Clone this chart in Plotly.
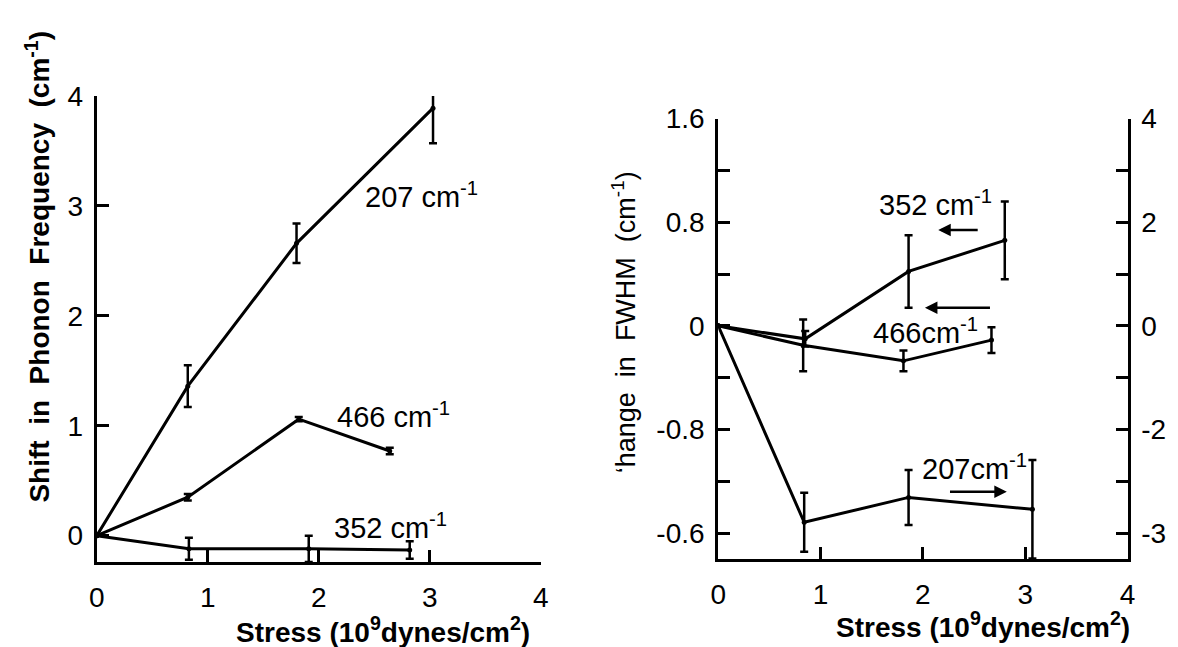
import plotly.graph_objects as go

# ---------------- data ----------------
# Left panel: shift in phonon frequency (cm^-1) vs stress (10^9 dynes/cm^2)
shift_207_x = [0, 0.82, 1.80, 3.03]
shift_207_y = [0, 1.36, 2.66, 3.89]
shift_207_err = [0, 0.19, 0.18, 0.32]

shift_466_x = [0, 0.82, 1.82, 2.64]
shift_466_y = [0, 0.35, 1.06, 0.77]
shift_466_err = [0, 0.03, 0.02, 0.03]

shift_352_x = [0, 0.83, 1.91, 2.82]
shift_352_y = [0, -0.12, -0.12, -0.13]
shift_352_err = [0, 0.10, 0.12, 0.08]

# Right panel: change in FWHM
fwhm_352_x = [0, 0.85, 1.86, 2.80]          # left axis
fwhm_352_y = [0, -0.10, 0.42, 0.66]
fwhm_352_err = [0, 0.06, 0.28, 0.30]

fwhm_466_x = [0, 0.83, 1.81, 2.67]          # left axis
fwhm_466_y = [0, -0.15, -0.27, -0.11]
fwhm_466_err = [0, 0.20, 0.08, 0.10]

fwhm_207_x = [0, 0.84, 1.86, 3.07]          # right axis
fwhm_207_y = [0, -3.79, -3.31, -3.54]
fwhm_207_err = [0, 0.57, 0.53, 0.95]

left_xticks = [0, 1, 2, 3, 4]
left_yticks = [0, 1, 2, 3, 4]
right_left_tickvals = [-1.6, -0.8, 0, 0.8, 1.6]
right_left_ticktext = ["-0.6", "-0.8", "0", "0.8", "1.6"]
right_left_minor = [-1.2, -0.4, 0.4, 1.2]
right_right_tickvals = [-4, -2, 0, 2, 4]
right_right_ticktext = ["-3", "-2", "0", "2", "4"]
right_right_minor = [-3, -1, 1, 3]

W, H = 1178, 647
FONT = "Liberation Sans"

def px(x):
    return x / W

def py(y):
    return 1 - y / H

fig = go.Figure()

def add_series(xs, ys, errs, xa, ya):
    fig.add_trace(go.Scatter(
        x=xs, y=ys, xaxis=xa, yaxis=ya, mode="lines+markers",
        line=dict(color="black", width=3),
        marker=dict(color="black", size=5),
        error_y=dict(type="data", array=errs, visible=True,
                     color="black", thickness=2.5, width=4),
        cliponaxis=False, showlegend=False, hoverinfo="skip"))

add_series(shift_207_x, shift_207_y, shift_207_err, "x", "y")
add_series(shift_466_x, shift_466_y, shift_466_err, "x", "y")
add_series(shift_352_x, shift_352_y, shift_352_err, "x", "y")
add_series(fwhm_352_x, fwhm_352_y, fwhm_352_err, "x2", "y2")
add_series(fwhm_466_x, fwhm_466_y, fwhm_466_err, "x2", "y2")
add_series(fwhm_207_x, fwhm_207_y, fwhm_207_err, "x2", "y3")

axis_common = dict(showline=True, linecolor="black", linewidth=3,
                   ticks="inside", ticklen=12, tickwidth=3, tickcolor="black",
                   showgrid=False, zeroline=False,
                   tickfont=dict(family=FONT, size=28, color="black"))

def minor(vals):
    return dict(tickvals=vals, ticks="inside", ticklen=12, tickwidth=3,
                tickcolor="black", showgrid=False)

fig.update_layout(
    width=W, height=H,
    margin=dict(l=0, r=0, t=0, b=0),
    paper_bgcolor="white", plot_bgcolor="white",
    showlegend=False,
    xaxis=dict(domain=[px(90), px(540)], range=[0, 4], anchor="y",
               tickvals=left_xticks, ticklabelstandoff=8, **axis_common),
    yaxis=dict(domain=[py(560), py(83)], range=[-0.24, 4], anchor="x",
               tickvals=left_yticks, ticklabelstandoff=5, **axis_common),
    xaxis2=dict(domain=[px(720), px(1135)], range=[0, 4], anchor="y2",
                tickvals=left_xticks, ticklabelstandoff=8, **axis_common),
    yaxis2=dict(domain=[py(557), py(106)], range=[-1.8, 1.6], anchor="x2",
                tickvals=right_left_tickvals, ticktext=right_left_ticktext,
                minor=minor(right_left_minor),
                ticklabelstandoff=5, **axis_common),
    yaxis3=dict(range=[-4.5, 4], anchor="x2", overlaying="y2", side="right",
                tickvals=right_right_tickvals, ticktext=right_right_ticktext,
                minor=minor(right_right_minor),
                ticklabelstandoff=5, **axis_common),
)

ann = []
lab_font = dict(family=FONT, size=29, color="black")

def label(x, y, xr, yr, text):
    ann.append(dict(x=x, y=y, xref=xr, yref=yr, text=text, showarrow=False,
                    xanchor="center", yanchor="middle", font=lab_font))

# left panel labels
label(2.93, 3.10, "x", "y", "207 cm<sup>-1</sup>")
label(2.67, 1.10, "x", "y", "466 cm<sup>-1</sup>")
label(2.65, 0.09, "x", "y", "352 cm<sup>-1</sup>")
# right panel labels
label(2.12, 0.95, "x2", "y2", "352 cm<sup>-1</sup>")
label(2.03, -0.04, "x2", "y2", "466cm<sup>-1</sup>")
label(2.50, -1.09, "x2", "y2", "207cm<sup>-1</sup>")
# arrows
for (hx, hy, tx, ty) in [(2.15, 0.74, 2.55, 0.74), (2.02, 0.14, 2.67, 0.14),
                         (2.82, -1.28, 2.25, -1.28)]:
    ann.append(dict(x=hx, y=hy, ax=tx, ay=ty, xref="x2", yref="y2",
                    axref="x2", ayref="y2", text="", showarrow=True,
                    arrowhead=2, arrowsize=1, arrowwidth=2.5, arrowcolor="black"))

title_font = dict(family=FONT, size=28, color="black")
nb = "\u00a0"

def ptitle(x, y, text, angle=0, font=title_font):
    ann.append(dict(x=px(x), y=py(y), xref="paper", yref="paper", text=text,
                    textangle=angle, xanchor="center", yanchor="middle",
                    showarrow=False, font=font))

ptitle(380, 630, "<b>Stress (10<sup>9</sup>dynes/cm<sup>2</sup>)</b>")
ptitle(988, 624, "<b>Stress (10<sup>9</sup>dynes/cm<sup>2</sup>)</b>")
ptitle(30, 258, "<b>Shift" + nb * 2 + "in" + nb * 2 + "Phonon" + nb * 2 +
       "Frequency" + nb * 2 + "(cm<sup>-1</sup>)</b>", angle=-90)
ptitle(624, 315, "\u2018hange" + nb * 2 + "in" + nb * 2 + "FWHM" + nb * 2 +
       "(cm<sup>-1</sup>)", angle=-90,
       font=dict(family=FONT, size=27, color="black"))

fig.update_layout(annotations=ann)
fig.write_html("out.html")
